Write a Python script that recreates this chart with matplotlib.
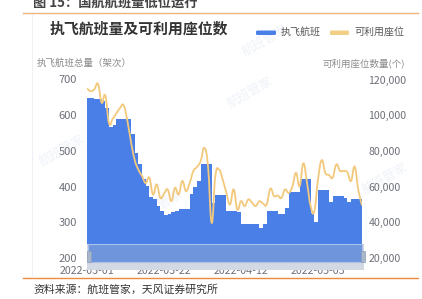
import numpy as np
import pandas as pd
import matplotlib
matplotlib.use("Agg")
import matplotlib.pyplot as plt
import matplotlib.dates as mdates
from matplotlib.path import Path
from matplotlib.patches import PathPatch, Rectangle, FancyBboxPatch

plt.rcParams['font.family'] = ['Noto Sans CJK SC', 'DejaVu Sans']

# data
dates = pd.date_range('2022-03-01', periods=76, freq='D')
flights = [647, 647, 644, 644, 639, 620, 566, 572, 588, 588,
           588, 588, 546, 494, 462, 420, 403, 371, 364, 345,
           331, 320, 322, 330, 333, 336, 336, 336, 380, 398,
           415, 462, 462, 462, 355, 377, 377, 377, 333, 333,
           333, 329, 294, 294, 294, 294, 294, 283, 294, 333,
           333, 333, 322, 322, 339, 385, 385, 385, 420, 420,
           420, 325, 300, 391, 391, 391, 357, 375, 375, 375,
           368, 357, 366, 366, 366, 366]
seats = [115000, 113500, 114500, 117500, 107000, 111000, 95500, 98000, 101000, 104000,
         105500, 97000, 85000, 75000, 69500, 66000, 62000, 65000, 55600, 61200,
         53700, 56000, 58400, 51900, 59300, 55600, 63100, 57500, 62000, 68700,
         71000, 74300, 81700, 71500, 39700, 65900, 69600, 64000, 56500, 50000,
         58400, 47200, 51900, 49100, 52800, 51000, 49100, 51800, 50500, 50000,
         58800, 54700, 55000, 53600, 58400, 56500, 60000, 67700, 60200, 73000,
         62100, 49100, 46300, 64000, 74800, 67700, 66500, 65000, 72400, 68800,
         68800, 68000, 63100, 71100, 58000, 49500]
tick_idx = [0, 21, 42, 63]
left_ticks = [200, 300, 400, 500, 600, 700]
right_ticks = [20000, 40000, 60000, 80000, 100000, 120000]

W, H = 422, 299
def fx(x):
    return x / W
def fy(y):
    return 1 - y / H

fig = plt.figure(figsize=(W / 100, H / 100), dpi=100)
fig.patch.set_facecolor('white')

# faint watermarks, behind the chart
for (wx, wy) in [(265, 40), (250, 92), (62, 150), (385, 178), (160, 205)]:
    fig.text(fx(wx), fy(wy), '航班管家', rotation=30, fontsize=9, color='#eef2f8',
             ha='center', va='center', zorder=-1)

# report caption and rules
fig.text(fx(33), fy(4), '图 15：国航航班量低位运行', fontsize=9.5, fontweight='bold',
         color='#444444', ha='left', va='center')
fig.add_artist(plt.Line2D([fx(23), fx(418)], [fy(13), fy(13)], color='#f2b27c', lw=1.0))
fig.add_artist(plt.Line2D([fx(23), fx(418)], [fy(278), fy(278)], color='#ee8a3c', lw=1.0))
fig.add_artist(plt.Line2D([fx(32), fx(32)], [fy(14), fy(277)], color='#eef0f5', lw=0.8))
fig.text(fx(33), fy(289), '资料来源：航班管家，天风证券研究所', fontsize=7.8,
         color='#333333', ha='left', va='center')

# chart title and legend
fig.text(fx(50), fy(29), '执飞航班量及可利用座位数', fontsize=10.7, fontweight='bold',
         color='#333333', ha='left', va='center')
fig.add_artist(FancyBboxPatch((fx(256), fy(35)), fx(20), 4.5 / H,
                              boxstyle='round,pad=0,rounding_size=0.004',
                              transform=fig.transFigure, color='#4a7fe8', lw=0))
fig.text(fx(281), fy(32), '执飞航班', fontsize=7.2, color='#555555', ha='left', va='center')
fig.add_artist(FancyBboxPatch((fx(330), fy(35)), fx(19), 4.5 / H,
                              boxstyle='round,pad=0,rounding_size=0.004',
                              transform=fig.transFigure, color='#f2cf86', lw=0))
fig.text(fx(354), fy(32), '可利用座位', fontsize=7.2, color='#555555', ha='left', va='center')

# axis titles
fig.text(fx(37), fy(63), '执飞航班总量（架次）', fontsize=6.8, color='#8a8a8a', ha='left', va='center')
fig.text(fx(405), fy(63), '可利用座位数量(个)', fontsize=6.8, color='#8a8a8a', ha='right', va='center')

x0, x1, ytop, ybot = 87.0, 362.0, 79.5, 258.0
ax = fig.add_axes([fx(x0), fy(ybot), fx(x1) - fx(x0), (ybot - ytop) / H])
ax.set_facecolor('none')
ax.fill_between(dates, flights, 200, step='post', color='#4a7fe8', lw=0, zorder=1)
ax.set_xlim(dates[0], dates[-1])
ax.set_ylim(200, 700)
ax.set_yticks(left_ticks)
ax.set_xticks(dates[tick_idx])
ax.xaxis.set_major_formatter(mdates.DateFormatter('%Y-%m-%d'))
for s in ax.spines.values():
    s.set_visible(False)
ax.tick_params(axis='x', length=0, pad=5.5, labelsize=7.7, labelcolor='#6e7079')
ax.tick_params(axis='y', length=0, pad=7, labelsize=8, labelcolor='#6e7079')

# data zoom slider at the bottom
ax.add_patch(Rectangle((fx(87), fy(270)), fx(364) - fx(87), 26 / H, transform=fig.transFigure,
                       facecolor='#d3d9e3', edgecolor='none', clip_on=False, zorder=2.1))
ax.add_patch(Rectangle((fx(88), fy(262)), fx(362) - fx(88), 18 / H, transform=fig.transFigure,
                       facecolor='#6f95dc', edgecolor='#a9c0ea', lw=0.8, clip_on=False, zorder=2.2))
for hx in (88.5, 363):
    ax.add_patch(Rectangle((fx(hx - 2), fy(262)), 4 / W, 11 / H, transform=fig.transFigure,
                           facecolor='#a8b7cc', edgecolor='#8d9db5', lw=0.5, clip_on=False, zorder=2.3))

ax2 = ax.twinx()
ax2.set_ylim(20000, 120000)
ax2.set_yticks(right_ticks)
ax2.set_yticklabels([f'{v:,}' for v in right_ticks])
for s in ax2.spines.values():
    s.set_visible(False)
ax2.tick_params(axis='y', length=0, pad=4.5, labelsize=7.6, labelcolor='#6e7079')

# smoothed seat line (bezier through the daily points)
xs = mdates.date2num(dates)
ys = np.array(seats, dtype=float)
n = len(xs)
k = 0.22
verts = [(xs[0], ys[0])]
codes = [Path.MOVETO]
for i in range(n - 1):
    ip = max(i - 1, 0)
    inn = min(i + 2, n - 1)
    c1 = (xs[i] + k * (xs[i + 1] - xs[ip]), ys[i] + k * (ys[i + 1] - ys[ip]))
    c2 = (xs[i + 1] - k * (xs[inn] - xs[i]), ys[i + 1] - k * (ys[inn] - ys[i]))
    verts += [c1, c2, (xs[i + 1], ys[i + 1])]
    codes += [Path.CURVE4] * 3
ax2.add_patch(PathPatch(Path(verts, codes), fill=False, edgecolor='#f2c97c', lw=1.3, zorder=3))

fig.savefig('out.png', dpi=100)
